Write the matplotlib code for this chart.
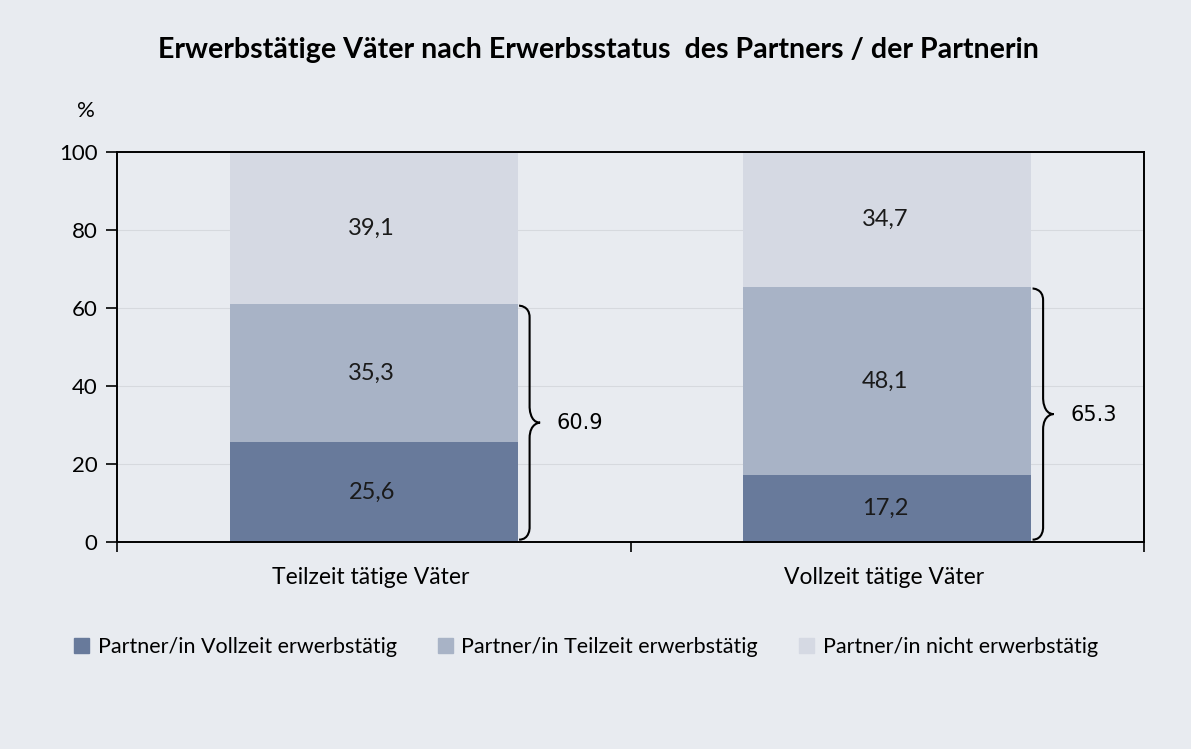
import matplotlib.pyplot as plt
from matplotlib.path import Path
from matplotlib.patches import PathPatch, Patch

# data
categories = ['Teilzeit tätige Väter', 'Vollzeit tätige Väter']
series_names = ['Partner/in Vollzeit erwerbstätig',
                'Partner/in Teilzeit erwerbstätig',
                'Partner/in nicht erwerbstätig']
vollzeit = [25.6, 17.2]
teilzeit = [35.3, 48.1]
nicht = [39.1, 34.7]
brace_labels = ['60.9', '65.3']

colors = ['#687a9b', '#a8b3c6', '#d5d9e3']
bg = '#e8ebf0'
font = 'Lato'

fig = plt.figure(figsize=(11.91, 7.49), dpi=100, facecolor=bg)
ax = fig.add_axes([117 / 1191, 1 - 542 / 749, (1144 - 117) / 1191, (542 - 152) / 749])
ax.set_facecolor(bg)

x = list(range(len(categories)))
width = 0.56
bottom = [0, 0]
for vals, col in zip([vollzeit, teilzeit, nicht], colors):
    ax.bar(x, vals, width, bottom=bottom, color=col, zorder=2)
    for i, v in enumerate(vals):
        ax.text(x[i] - 0.004, bottom[i] + v / 2, f'{v:.1f}'.replace('.', ','),
                ha='center', va='center', fontsize=17, family=font, color='#1a1a1a', zorder=3)
    bottom = [b + v for b, v in zip(bottom, vals)]


def brace(ax, x0, y0, y1, w=0.041):
    # curly brace from y0 to y1, opening to the left, tip pointing right
    xm = x0 + w / 2
    xt = x0 + w
    mid = (y0 + y1) / 2
    re, rt = 3.0, 4.0
    verts = [
        (x0, y0), (xm, y0), (xm, y0 + re), (xm, y0 + re),
        (xm, mid - rt),
        (xm, mid), (xt, mid), (xt, mid),
        (xm, mid), (xm, mid + rt), (xm, mid + rt),
        (xm, y1 - re),
        (xm, y1), (x0, y1), (x0, y1),
    ]
    codes = [Path.MOVETO, Path.CURVE4, Path.CURVE4, Path.CURVE4,
             Path.LINETO,
             Path.CURVE4, Path.CURVE4, Path.CURVE4,
             Path.CURVE4, Path.CURVE4, Path.CURVE4,
             Path.LINETO,
             Path.CURVE4, Path.CURVE4, Path.CURVE4]
    ax.add_patch(PathPatch(Path(verts, codes), fc='none', ec='black', lw=1.5, zorder=4))
    return xt


for i in x:
    top = vollzeit[i] + teilzeit[i]
    xt = brace(ax, x[i] + width / 2 + 0.003, 0.6, top - 0.3)
    ax.text(xt + 0.032, top / 2, brace_labels[i], ha='left', va='center', fontsize=15)

ax.set_xlim(-0.5, 1.5)
ax.set_ylim(0, 100)
ax.set_yticks(range(0, 101, 20))
ax.set_yticklabels([str(v) for v in range(0, 101, 20)], family=font, fontsize=16)
ax.set_xticks([-0.5, 0.5, 1.5], minor=False)
ax.set_xticklabels([])
ax.tick_params(axis='x', length=7, width=1.2, direction='out')
ax.tick_params(axis='y', length=8, width=1.2, direction='out', pad=6)
for i, c in enumerate(categories):
    ax.text(x[i] - 0.006, -6.5, c, ha='center', va='top', fontsize=16.5, family=font)
ax.yaxis.grid(True, color='#d6d9de', lw=0.8, zorder=0)
for s in ax.spines.values():
    s.set_linewidth(1.4)

ax.text(-0.56, 108, '%', ha='center', va='bottom', fontsize=16, family=font)

fig.text(598 / 1191, 1 - 50 / 749, 'Erwerbstätige Väter nach Erwerbsstatus  des Partners / der Partnerin',
         ha='center', va='center', fontsize=20.6, fontweight='bold', family=font)

handles = [Patch(color=c) for c in colors]
fig.legend(handles, series_names, loc='center', bbox_to_anchor=(586 / 1191, 1 - 647 / 749),
           ncol=3, frameon=False, prop={'family': font, 'size': 15.5},
           handlelength=0.7, handleheight=0.7, handletextpad=0.4, columnspacing=1.9)

fig.savefig('out.png', dpi=100, facecolor=bg)
